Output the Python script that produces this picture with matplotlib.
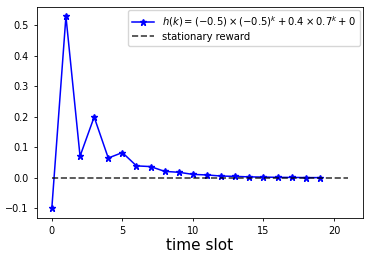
import matplotlib
matplotlib.use('Agg')
import matplotlib.pyplot as plt

# values
k = list(range(20))
h = [-0.1, 0.53, 0.071, 0.1997, 0.065, 0.0828, 0.0392, 0.0369, 0.0211, 0.0182,
     0.0112, 0.0094, 0.0058, 0.0048, 0.0030, 0.0025, 0.0015, 0.0013, 0.0008, 0.0006]
stat_x = [0, 21]
stat_y = [0, 0]

fig = plt.figure(figsize=(3.7, 2.6), dpi=100)
ax = fig.add_axes([0.1, 0.162, 0.881, 0.812])
ax.plot(k, h, color='blue', marker='*', markersize=4.5, linewidth=1.1,
        label=r'$h(k) = (-0.5)\times(-0.5)^k + 0.4\times0.7^k + 0$')
ax.plot(stat_x, stat_y, 'k--', linewidth=1.2, alpha=0.75, label='stationary reward')
ax.set_xticks([0, 5, 10, 15, 20])
ax.set_yticks([-0.1, 0.0, 0.1, 0.2, 0.3, 0.4, 0.5])
ax.tick_params(labelsize=7, length=2.5, width=0.6)
for s in ax.spines.values():
    s.set_linewidth(0.6)
ax.set_xlabel('time slot', fontsize=11, labelpad=1)
ax.legend(loc='upper right', fontsize=7.2, handlelength=2.2, borderaxespad=0.3,
          labelspacing=0.3)
fig.savefig('out.png', dpi=100)
